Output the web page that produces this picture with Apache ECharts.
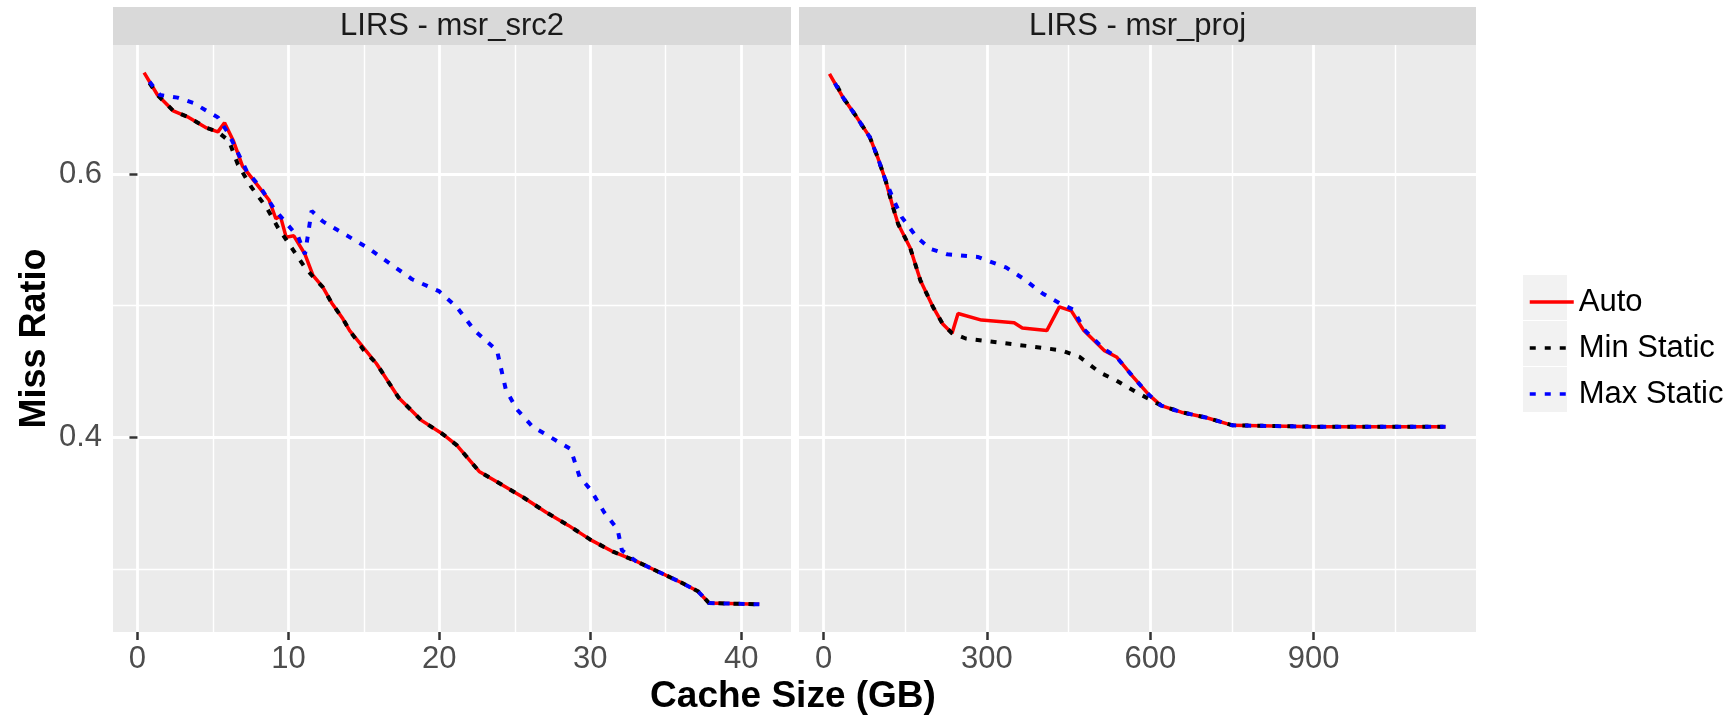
<!DOCTYPE html>
<html>
<head>
<meta charset="utf-8">
<script src="https://cdn.jsdelivr.net/npm/echarts@6/dist/echarts.min.js"></script>
<style>
html,body{margin:0;padding:0;background:#fff;}
#chart{width:1728px;height:718px;}
</style>
</head>
<body>
<div id="chart"></div>
<script>
// ---- data (Cache Size GB, Miss Ratio) ----
var panelTitles = ['LIRS - msr_src2', 'LIRS - msr_proj'];
var seriesNames = ['Auto', 'Min Static', 'Max Static'];

var srcAuto = [[0.44,0.677],[1.33,0.660],[2.37,0.648],[3.4,0.643],[4.58,0.635],[5.33,0.632],[5.77,0.639],[6.36,0.625],[6.96,0.606],[7.99,0.591],[8.73,0.580],[9.17,0.566],[9.47,0.568],[9.85,0.552],[10.36,0.553],[11.1,0.539],[11.63,0.523],[12.28,0.514],[12.87,0.502],[13.61,0.490],[14.06,0.481],[15.83,0.456],[17.31,0.430],[18.79,0.413],[20.27,0.402],[21.15,0.394],[22.64,0.374],[24.12,0.364],[25.6,0.354],[27.07,0.343],[28.55,0.333],[30.03,0.322],[31.51,0.313],[33.0,0.306],[34.47,0.298],[35.95,0.290],[37.13,0.283],[37.87,0.274],[41.2,0.273]];
var srcMin = [[0.8,0.669],[1.33,0.660],[2.37,0.648],[3.4,0.643],[4.58,0.635],[5.33,0.632],[6.07,0.625],[6.66,0.607],[7.55,0.590],[8.58,0.574],[9.32,0.559],[10.21,0.544],[11.1,0.529],[11.7,0.521],[12.28,0.514],[12.87,0.502],[13.61,0.490],[14.06,0.481],[15.0,0.466],[15.83,0.456],[17.31,0.430],[18.79,0.413],[20.27,0.402],[21.15,0.394],[22.64,0.374],[24.12,0.364],[25.6,0.354],[27.07,0.343],[28.55,0.333],[30.03,0.322],[31.51,0.313],[33.0,0.306],[34.47,0.298],[35.95,0.290],[37.13,0.283],[37.87,0.274],[41.2,0.273]];
var srcMax = [[0.8,0.670],[1.49,0.660],[2.66,0.658],[3.7,0.654],[5.33,0.643],[6.07,0.630],[7.25,0.602],[8.14,0.590],[9.03,0.574],[9.91,0.562],[10.66,0.552],[11.1,0.539],[11.54,0.572],[12.28,0.564],[13.76,0.554],[15.24,0.544],[16.72,0.532],[18.2,0.520],[19.97,0.511],[21.15,0.499],[22.34,0.481],[23.23,0.472],[23.82,0.466],[24.41,0.436],[25.15,0.421],[26.18,0.408],[27.37,0.400],[28.7,0.391],[29.29,0.370],[30.03,0.360],[30.92,0.343],[31.81,0.330],[32.1,0.314],[33.0,0.306],[34.47,0.298],[35.95,0.290],[37.13,0.283],[37.87,0.274],[41.2,0.273]];

var projAuto = [[11,0.676],[36,0.658],[58,0.645],[85,0.628],[100,0.612],[114,0.595],[126,0.577],[137,0.562],[159,0.544],[178,0.519],[201,0.499],[219,0.486],[236,0.479],[247,0.494],[290,0.489],[350,0.487],[365,0.483],[410,0.481],[433,0.499],[455,0.496],[478,0.481],[515,0.466],[538,0.461],[568,0.446],[598,0.432],[620,0.424],[657,0.419],[702,0.415],[751,0.409],[900,0.408],[1142,0.408]];
var projMin = [[25,0.667],[36,0.658],[58,0.645],[85,0.628],[100,0.612],[114,0.595],[126,0.577],[137,0.562],[159,0.544],[178,0.519],[201,0.499],[219,0.486],[236,0.479],[261,0.475],[321,0.472],[380,0.469],[437,0.466],[470,0.461],[508,0.449],[538,0.443],[575,0.434],[598,0.429],[620,0.424],[657,0.419],[702,0.415],[751,0.409],[900,0.408],[1142,0.408]];
var projMax = [[21,0.669],[36,0.658],[58,0.645],[85,0.628],[100,0.612],[114,0.595],[129,0.580],[144,0.567],[171,0.552],[197,0.543],[227,0.539],[283,0.537],[335,0.529],[365,0.521],[403,0.509],[437,0.501],[459,0.497],[478,0.482],[515,0.467],[538,0.461],[568,0.446],[598,0.432],[620,0.424],[657,0.419],[702,0.415],[751,0.409],[900,0.408],[1142,0.408]];

var srcTicks = [0, 10, 20, 30, 40];
var srcMinorTicks = [5, 15, 25, 35];
var projTicks = [0, 300, 600, 900];
var projMinorTicks = [150, 450, 750, 1050];
var yTicks = [0.4, 0.6];
var yMinorTicks = [0.3, 0.5];

// ---- styling ----
var FONT = '"Liberation Sans", Arial, Helvetica, sans-serif';
var PANEL_TOP = 45, PANEL_H = 587;
var panels = [
  {left: 113, width: 678, xmin: -1.62, xmax: 43.3, ticks: srcTicks, minor: srcMinorTicks},
  {left: 799, width: 677, xmin: -45, xmax: 1198, ticks: projTicks, minor: projMinorTicks}
];
var YMIN = 0.252, YMAX = 0.698;

var grids = [], xAxes = [], yAxes = [], series = [], graphics = [];
var dataSets = [[srcAuto, srcMin, srcMax], [projAuto, projMin, projMax]];
var lineStyles = [
  {color: '#ff0000', width: 3.5, type: 'solid'},
  {color: '#000000', width: 4, type: [6, 9]},
  {color: '#0000ff', width: 4, type: [6, 9]}
];

panels.forEach(function (p, i) {
  grids.push({left: p.left, top: PANEL_TOP, width: p.width, height: PANEL_H,
    show: true, backgroundColor: '#ebebeb', borderWidth: 0, containLabel: false});
  xAxes.push({type: 'value', gridIndex: i, min: p.xmin, max: p.xmax,
    axisLine: {show: false},
    axisTick: {show: true, customValues: p.ticks, length: 8, lineStyle: {color: '#333333', width: 2.5}},
    axisLabel: {show: true, customValues: p.ticks, margin: 12, color: '#4d4d4d', fontSize: 31, fontFamily: FONT},
    splitLine: {show: true, lineStyle: {color: '#ffffff', width: 2.8}}
  });
  xAxes.push({type: 'value', gridIndex: i, min: p.xmin, max: p.xmax,
    axisLine: {show: false},
    axisTick: {show: false, customValues: p.minor},
    axisLabel: {show: false, customValues: p.minor},
    splitLine: {show: true, lineStyle: {color: '#ffffff', width: 1.4}}
  });
  yAxes.push({type: 'value', gridIndex: i, min: YMIN, max: YMAX,
    axisLine: {show: false},
    axisTick: {show: i === 0, customValues: yTicks, length: 8, lineStyle: {color: '#333333', width: 2.5}},
    axisLabel: {show: i === 0, customValues: yTicks, margin: 11, color: '#4d4d4d', fontSize: 31, fontFamily: FONT,
      formatter: function (v) { return v.toFixed(1); }},
    splitLine: {show: true, lineStyle: {color: '#ffffff', width: 2.8}},
    name: i === 0 ? 'Miss Ratio' : '', nameLocation: 'middle', nameRotate: 90, nameGap: 60,
    nameTextStyle: {fontSize: 36, fontWeight: 'bold', color: '#000000', fontFamily: FONT}
  });
  yAxes.push({type: 'value', gridIndex: i, min: YMIN, max: YMAX,
    axisLine: {show: false},
    axisTick: {show: false, customValues: yMinorTicks},
    axisLabel: {show: false, customValues: yMinorTicks},
    splitLine: {show: true, lineStyle: {color: '#ffffff', width: 1.4}}
  });

  dataSets[i].forEach(function (d, k) {
    series.push({
      type: 'line', name: seriesNames[k], data: d,
      xAxisIndex: i * 2, yAxisIndex: i * 2,
      showSymbol: false, symbol: 'none', smooth: false,
      lineStyle: lineStyles[k], itemStyle: {color: lineStyles[k].color},
      z: 3 + k, silent: true
    });
  });

  graphics.push({type: 'rect', left: p.left, top: 7, z: 0,
    shape: {width: p.width, height: PANEL_TOP - 7}, style: {fill: '#d9d9d9'}});
  graphics.push({type: 'text', x: p.left + p.width / 2, y: 26, z: 1,
    style: {text: panelTitles[i], fill: '#1a1a1a', font: '31px ' + FONT, textAlign: 'center', textVerticalAlign: 'middle'}});
});

graphics.push({type: 'text', x: 793, y: 697, z: 1,
  style: {text: 'Cache Size (GB)', fill: '#000000', font: 'bold 37px ' + FONT, textAlign: 'center', textVerticalAlign: 'middle'}});

[0, 1, 2].forEach(function (k) {
  graphics.push({type: 'rect', left: 1523, top: 275 + k * 46, z: 0,
    shape: {width: 44, height: 45}, style: {fill: '#f2f2f2'}});
});

var chart = echarts.init(document.getElementById('chart'), null, {renderer: 'canvas'});
chart.setOption({
  animation: false,
  backgroundColor: '#ffffff',
  grid: grids,
  xAxis: xAxes,
  yAxis: yAxes,
  series: series,
  graphic: {elements: graphics},
  legend: {
    data: seriesNames,
    orient: 'vertical',
    left: 1523, top: 277,
    itemWidth: 44, itemHeight: 14, itemGap: 6,
    itemStyle: {opacity: 0, borderWidth: 0},
    lineStyle: {width: 3.5},
    textStyle: {fontSize: 31, color: '#000000', fontFamily: FONT, lineHeight: 40},
    selectedMode: false
  }
});
</script>
</body>
</html>
